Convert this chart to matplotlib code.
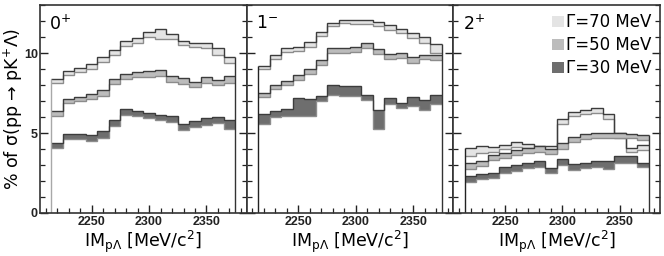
import numpy as np
import matplotlib
matplotlib.use("Agg")
import matplotlib.pyplot as plt
import matplotlib.ticker as mticker
from matplotlib.patches import Patch

plt.rcParams["font.family"] = ["DejaVu Sans"]
plt.rcParams["mathtext.fontset"] = "dejavusans"
plt.rcParams["mathtext.default"] = "regular"

# 16 bins of 10 MeV, 2215..2375
edges = np.arange(2215, 2376, 10)

panel_names = ["0$^{+}$", "1$^{-}$", "2$^{+}$"]

# Γ=70 MeV band (upper, lower)
g70_hi_0 = [8.35, 8.85, 9.05, 9.3, 9.75, 10.2, 10.75, 10.95, 11.35, 11.5, 11.2, 10.75, 10.65, 10.65, 10.3, 9.75]
g70_lo_0 = [8.1, 8.6, 8.8, 9.0, 9.45, 9.9, 10.45, 10.6, 11.0, 10.85, 10.85, 10.5, 10.4, 10.3, 9.9, 9.4]
g50_hi_0 = [6.35, 7.15, 7.27, 7.42, 7.69, 8.35, 8.69, 8.83, 8.88, 8.94, 8.56, 8.42, 8.2, 8.48, 8.31, 8.56]
g50_lo_0 = [6.05, 6.9, 7.02, 7.12, 7.31, 8.06, 8.38, 8.48, 8.52, 8.56, 8.2, 8.06, 7.9, 8.15, 8.0, 8.15]
g30_hi_0 = [4.35, 4.94, 4.92, 4.88, 5.12, 5.81, 6.48, 6.4, 6.27, 6.1, 6.06, 5.56, 5.75, 5.92, 5.98, 5.81]
g30_lo_0 = [4.04, 4.6, 4.62, 4.52, 4.67, 5.44, 6.12, 6.04, 5.92, 5.81, 5.71, 5.19, 5.4, 5.5, 5.6, 5.23]

g70_hi_1 = [9.19, 9.87, 10.29, 10.4, 10.67, 11.33, 11.9, 12.1, 12.1, 12.06, 11.96, 11.75, 11.48, 11.23, 10.98, 10.54]
g70_lo_1 = [8.98, 9.6, 10.04, 10.15, 10.4, 11.06, 11.67, 11.9, 11.85, 11.81, 11.69, 11.44, 11.23, 10.92, 10.64, 10.02]
g50_hi_1 = [7.48, 8.0, 8.27, 8.62, 8.98, 9.56, 10.33, 10.33, 10.4, 10.65, 10.23, 9.92, 10.02, 9.73, 9.87, 9.87]
g50_lo_1 = [7.23, 7.73, 8.0, 8.31, 8.69, 9.25, 10.02, 10.02, 10.08, 10.33, 9.94, 9.6, 9.67, 9.4, 9.6, 9.56]
g30_hi_1 = [6.2, 6.38, 6.48, 7.17, 7.1, 7.31, 8.0, 7.94, 7.94, 7.38, 6.46, 7.17, 6.9, 7.23, 7.06, 7.38]
g30_lo_1 = [5.56, 5.98, 6.06, 6.06, 6.06, 7.02, 7.38, 7.31, 7.31, 7.06, 5.23, 6.81, 6.58, 6.67, 6.44, 6.79]

g70_hi_2 = [4.04, 4.21, 4.1, 4.25, 4.42, 4.29, 4.19, 4.19, 5.88, 6.33, 6.46, 6.54, 6.21, 4.98, 4.04, 4.25]
g70_lo_2 = [3.58, 3.77, 3.83, 3.98, 4.15, 4.04, 3.98, 3.77, 5.55, 6.04, 6.19, 6.23, 5.85, 4.7, 3.83, 3.94]
g50_hi_2 = [3.1, 3.25, 3.62, 3.73, 3.94, 4.04, 4.19, 3.98, 4.35, 4.77, 4.92, 4.98, 4.98, 4.98, 4.94, 4.9]
g50_lo_2 = [2.73, 2.94, 3.31, 3.46, 3.62, 3.73, 3.83, 3.69, 3.98, 4.46, 4.6, 4.67, 4.67, 4.67, 4.67, 4.56]
g30_hi_2 = [2.31, 2.42, 2.48, 2.9, 3.0, 3.1, 3.25, 2.79, 3.35, 3.04, 3.15, 3.23, 3.25, 3.56, 3.56, 3.15]
g30_lo_2 = [1.96, 2.1, 2.17, 2.52, 2.62, 2.79, 2.9, 2.48, 3.0, 2.69, 2.79, 2.85, 2.73, 3.15, 3.15, 2.9]

panels = [
    [(g70_hi_0, g70_lo_0), (g50_hi_0, g50_lo_0), (g30_hi_0, g30_lo_0)],
    [(g70_hi_1, g70_lo_1), (g50_hi_1, g50_lo_1), (g30_hi_1, g30_lo_1)],
    [(g70_hi_2, g70_lo_2), (g50_hi_2, g50_lo_2), (g30_hi_2, g30_lo_2)],
]

widths = ["Γ=70 MeV", "Γ=50 MeV", "Γ=30 MeV"]
fills = ["#e4e4e4", "#bcbcbc", "#6e6e6e"]
edge_dark = "#3c3c3c"
edge_light = "#8c8c8c"
left_edge_col = ["#a8a8a8", "#222222", "#222222"]

fig = plt.figure(figsize=(6.64, 2.56), dpi=100)
axes = fig.subplots(1, 3, sharey=True)
fig.subplots_adjust(left=0.0602, right=0.994, bottom=0.168, top=0.98, wspace=0)

for i, ax in enumerate(axes):
    bands = panels[i]
    for (hi, lo), fc in zip(bands, fills):
        hi = np.array(hi)
        lo = np.array(lo)
        ax.stairs(hi, edges, baseline=lo, fill=True, color=fc, lw=0)
        ax.stairs(lo, edges, baseline=None, color=edge_light, lw=1.0)
        ax.stairs(hi, edges, baseline=None, color=edge_dark, lw=1.0)

    # outer outline of the histogram down to zero
    top_left = max(b[0][0] for b in bands)
    top_right = max(b[0][-1] for b in bands)
    ax.vlines(edges[0], 0, top_left, color=left_edge_col[i], lw=1.0)
    ax.vlines(edges[-1], 0, top_right, color="#333333", lw=1.0)

    ax.set_xlim(2205, 2385)
    ax.set_ylim(0, 13)
    ax.xaxis.set_major_locator(mticker.FixedLocator([2250, 2300, 2350]))
    ax.xaxis.set_minor_locator(mticker.MultipleLocator(10))
    ax.yaxis.set_major_locator(mticker.FixedLocator([0, 5, 10]))
    ax.yaxis.set_minor_locator(mticker.MultipleLocator(1))
    ax.tick_params(which="both", direction="in", left=True, right=True,
                   top=False, bottom=True, colors="#222222")
    ax.tick_params(which="major", length=6, width=1.0, pad=2.5)
    ax.tick_params(axis="y", which="major", pad=1.5)
    ax.tick_params(which="minor", length=3.5, width=0.9)
    for lab in ax.get_xticklabels() + ax.get_yticklabels():
        lab.set_fontweight("bold")
        lab.set_fontsize(9)
        lab.set_family("Liberation Sans")
    for sp in ax.spines.values():
        sp.set_color("#333333")
        sp.set_linewidth(1.2)

    ax.text(0.045, 0.955, panel_names[i], transform=ax.transAxes,
            ha="left", va="top", fontsize=12.5)
    ax.set_xlabel(r"IM$_{p\Lambda}$ [MeV/c$^{2}$]", fontsize=12.5, labelpad=0)

axes[0].set_ylabel(r"% of σ(pp → pK$^{+}$Λ)", fontsize=12.5)
axes[0].yaxis.set_label_coords(-0.13, 0.5)
axes[0].yaxis.label.set_verticalalignment("center")

handles = [Patch(facecolor=c, edgecolor="none") for c in fills]
axes[2].legend(handles, widths, loc="upper right", frameon=False, fontsize=12,
               handlelength=0.7, handleheight=0.7, handletextpad=0.15,
               labelspacing=0.3, borderaxespad=0.4, borderpad=0.1)

fig.savefig("out.png", dpi=100)
